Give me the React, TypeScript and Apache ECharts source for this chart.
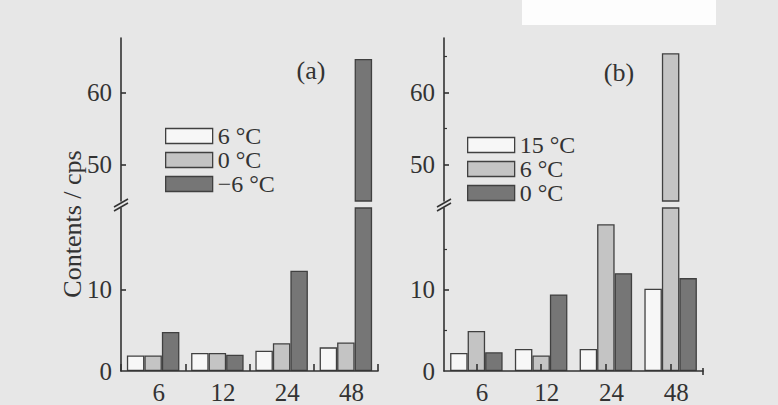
import React, { useEffect, useRef } from "react";
import * as echarts from "echarts";

// ---- data ----
const categories = ["6", "12", "24", "48"];
const panelANames = ["6 °C", "0 °C", "−6 °C"];
const panelAWhite = [1.9, 2.2, 2.5, 2.9];
const panelAGray = [1.9, 2.2, 3.4, 3.5];
const panelADark = [4.8, 2.0, 12.3, 64.6];
const panelBNames = ["15 °C", "6 °C", "0 °C"];
const panelBWhite = [2.2, 2.7, 2.7, 10.1];
const panelBGray = [4.9, 1.9, 18.0, 65.4];
const panelBDark = [2.3, 9.4, 12.0, 11.4];
const lowerRange = [0, 20];
const upperRange = [45, 67.5];
const lowerTickValues = [10];
const lowerLabelValues = [0, 10];
const upperTickValues = [50, 60];
const minorLowerValues = [5, 15];
const minorUpperValues = [55, 65];
const panelLabels = ["(a)", "(b)"];
const yAxisTitle = "Contents / cps";

const FONT = '"Liberation Serif", "Times New Roman", serif';
const INK = "#333333";
const FILLS = ["#f7f7f7", "#c4c4c4", "#767676"];
const BORDER = "#404040";

export default function App() {
  const ref = useRef<HTMLDivElement>(null);
  useEffect(() => {
    if (!ref.current) return;
    document.body.style.margin = "0";
    const chart = echarts.init(ref.current, undefined, { renderer: "svg" });

    const panels = [
      { left: 121, width: 257, names: panelANames, data: [panelAWhite, panelAGray, panelADark], align: false, legendLeft: 165, legendTop: 124 },
      { left: 444, width: 259, names: panelBNames, data: [panelBWhite, panelBGray, panelBDark], align: true, legendLeft: 467, legendTop: 133 },
    ];

    const grid: any[] = [];
    const xAxis: any[] = [];
    const yAxis: any[] = [];
    const series: any[] = [];
    const legend: any[] = [];

    const axisLine = { show: true, lineStyle: { color: INK, width: 1.6 } };
    const labelStyle = { color: INK, fontFamily: FONT, fontSize: 25 };

    panels.forEach((p, pi) => {
      const gLower = grid.length;
      grid.push({ left: p.left, width: p.width, top: 208, height: 167 });
      const gUpper = grid.length;
      grid.push({ left: p.left, width: p.width, top: 38, height: 163 });

      xAxis.push({
        gridIndex: gLower,
        type: "category",
        data: categories,
        z: 5,
        axisLine,
        axisTick: { show: true, inside: true, length: 7, alignWithLabel: p.align, lineStyle: { color: INK, width: 1.6 } },
        axisLabel: { ...labelStyle, margin: 9, padding: [0, 0, 0, 11] },
      });
      xAxis.push({ gridIndex: gUpper, type: "category", data: categories, show: false });

      const yl = yAxis.length;
      yAxis.push({
        gridIndex: gLower,
        type: "value",
        position: "left",
        min: lowerRange[0],
        max: lowerRange[1],
        axisLine,
        splitLine: { show: false },
        axisTick: { show: true, inside: true, length: 5, customValues: lowerTickValues, lineStyle: { color: INK, width: 1.6 } },
        axisLabel: { ...labelStyle, margin: 9, customValues: lowerLabelValues },
      });
      const yu = yAxis.length;
      yAxis.push({
        gridIndex: gUpper,
        type: "value",
        position: "left",
        min: upperRange[0],
        max: upperRange[1],
        axisLine,
        splitLine: { show: false },
        axisTick: { show: true, inside: true, length: 5, customValues: upperTickValues, lineStyle: { color: INK, width: 1.6 } },
        axisLabel: { ...labelStyle, margin: 9, customValues: upperTickValues },
      });
      if (pi === 1) {
        yAxis.push({
          gridIndex: gLower, type: "value", position: "left", offset: 0, min: lowerRange[0], max: lowerRange[1],
          axisLine: { show: false }, splitLine: { show: false }, axisLabel: { show: false },
          axisTick: { show: true, inside: true, length: 3, customValues: minorLowerValues, lineStyle: { color: INK, width: 1.2 } },
        });
        yAxis.push({
          gridIndex: gUpper, type: "value", position: "left", offset: 0, min: upperRange[0], max: upperRange[1],
          axisLine: { show: false }, splitLine: { show: false }, axisLabel: { show: false },
          axisTick: { show: true, inside: true, length: 3, customValues: minorUpperValues, lineStyle: { color: INK, width: 1.2 } },
        });
      }

      p.names.forEach((name, si) => {
        const itemStyle = { color: FILLS[si], borderColor: BORDER, borderWidth: 1.3 };
        [[gLower, yl], [gUpper, yu]].forEach(([xi, yi]) => {
          series.push({
            type: "bar",
            name,
            xAxisIndex: xi,
            yAxisIndex: yi,
            data: p.data[si],
            barWidth: 17.5,
            barGap: "0%",
            clip: true,
            itemStyle,
            emphasis: { disabled: true },
          });
        });
      });

      legend.push({
        left: p.legendLeft,
        top: p.legendTop,
        orient: "vertical",
        padding: 0,
        itemGap: 0,
        itemWidth: 47,
        itemHeight: 15,
        icon: "rect",
        selectedMode: false,
        textStyle: { color: INK, fontFamily: FONT, fontSize: 24, lineHeight: 23.5 },
        data: p.names.map((name, si) => ({
          name,
          icon: "rect",
          itemStyle: { color: FILLS[si], borderColor: BORDER, borderWidth: 1.3 },
        })),
      });
    });

    const breakMark = (ax: number) => [
      { type: "line", shape: { x1: ax - 7, y1: 207, x2: ax + 7, y2: 199 }, style: { stroke: INK, lineWidth: 1.5 }, z: 10 },
      { type: "line", shape: { x1: ax - 7, y1: 211, x2: ax + 7, y2: 203 }, style: { stroke: INK, lineWidth: 1.5 }, z: 10 },
    ];

    chart.setOption({
      animation: false,
      backgroundColor: "#e7e7e7",
      grid,
      xAxis,
      yAxis,
      series,
      legend,
      tooltip: { show: false },
      graphic: [
        { type: "rect", shape: { x: 522, y: 0, width: 194, height: 25 }, style: { fill: "#fdfdfd" }, z: -1 },
        ...breakMark(121),
        ...breakMark(444),
        { type: "line", shape: { x1: 703, y1: 375, x2: 703, y2: 368 }, style: { stroke: INK, lineWidth: 1.6 }, z: 10 },
        { type: "text", x: 311, y: 70, style: { text: panelLabels[0], fill: INK, fontFamily: FONT, fontSize: 26, align: "center", verticalAlign: "middle" }, z: 10 },
        { type: "text", x: 619, y: 72, style: { text: panelLabels[1], fill: INK, fontFamily: FONT, fontSize: 26, align: "center", verticalAlign: "middle" }, z: 10 },
        { type: "text", x: 72, y: 224, rotation: Math.PI / 2, style: { text: yAxisTitle, fill: INK, fontFamily: FONT, fontSize: 26, align: "center", verticalAlign: "middle" }, z: 10 },
      ],
    });
    return () => chart.dispose();
  }, []);
  return (
    <div style={{ position: "fixed", left: 0, top: 0, width: 778, height: 405 }}>
      <div ref={ref} style={{ width: 778, height: 405 }} />
    </div>
  );
}
